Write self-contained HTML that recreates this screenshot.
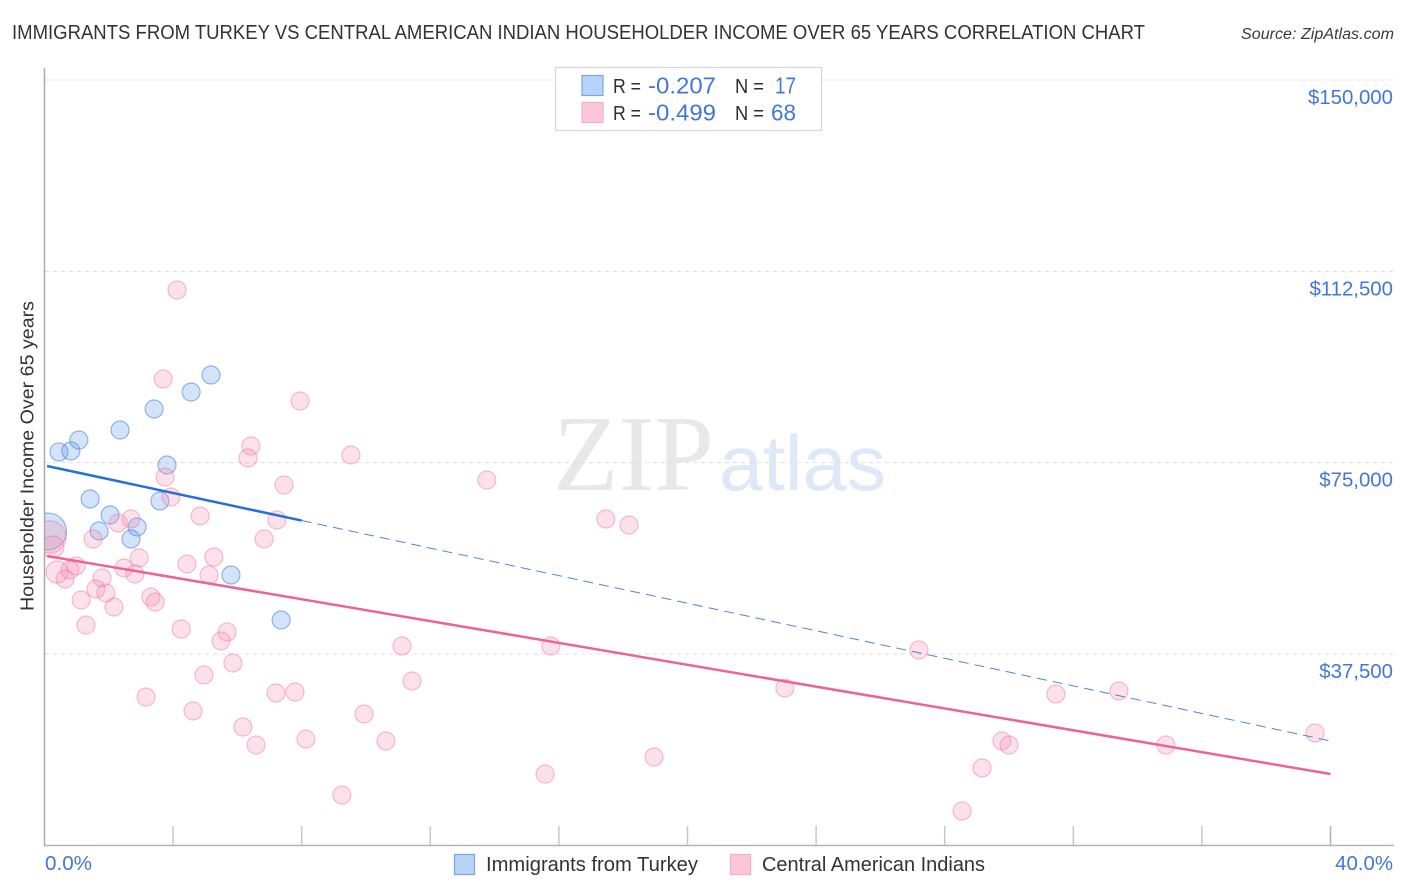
<!DOCTYPE html>
<html lang="en">
<head>
<meta charset="utf-8">
<title>Immigrants from Turkey vs Central American Indian Householder Income Correlation Chart</title>
<style>
html,body{margin:0;padding:0;background:#fff;width:1406px;height:892px;overflow:hidden}
svg{display:block;font-family:"Liberation Sans",sans-serif}
</style>
</head>
<body>
<svg id="chart" xmlns="http://www.w3.org/2000/svg" width="1406" height="892" viewBox="0 0 1406 892">
  <defs>
    <clipPath id="plot-clip"><rect x="45" y="60" width="1349" height="785"/></clipPath>
  </defs>
  <rect x="0" y="0" width="1406" height="892" fill="#fff"/>
  <text x="12" y="39" font-size="20" fill="#333333" textLength="1133" lengthAdjust="spacingAndGlyphs">IMMIGRANTS FROM TURKEY VS CENTRAL AMERICAN INDIAN HOUSEHOLDER INCOME OVER 65 YEARS CORRELATION CHART</text>
  <text x="1241" y="39" font-size="15.5" font-style="italic" fill="#3a3a3a" textLength="153" lengthAdjust="spacingAndGlyphs">Source: ZipAtlas.com</text>

  <g id="watermark">
    <text x="553" y="490" font-family="'Liberation Serif',serif" font-size="108" fill="#e8e8e8" textLength="161" lengthAdjust="spacingAndGlyphs">ZIP</text>
    <text x="719" y="490" font-size="78" fill="#dde9f8" textLength="167" lengthAdjust="spacingAndGlyphs">atlas</text>
  </g>

  <g id="grid"></g>
  <g id="axes">
    <line x1="44.5" y1="68" x2="44.5" y2="846" stroke="#aaaaaa" stroke-width="1.5"/>
    <line x1="44" y1="845.5" x2="1394" y2="845.5" stroke="#b4b4b4" stroke-width="1.5"/>
  </g>
  <g id="x-ticks"></g>
  <g id="y-labels" font-size="20.4" fill="#4277d8" text-anchor="end"></g>
  <g id="x-labels" font-size="20.4" fill="#4277d8"></g>
  <text transform="translate(33.5,611) rotate(-90)" font-size="18.5" fill="#333333" textLength="310" lengthAdjust="spacingAndGlyphs">Householder Income Over 65 years</text>

  <g id="points-blue" clip-path="url(#plot-clip)"></g>
  <g id="points-pink" clip-path="url(#plot-clip)"></g>
  <g id="trends"></g>

  <g id="stats-legend" font-size="20">
    <rect x="555.5" y="67.5" width="266" height="63" fill="#fff" stroke="#d6d6d6" stroke-width="1.2"/>
    <rect x="582" y="75.5" width="21" height="20" fill="#b7d3f9" stroke="#76a6e8" stroke-width="1.2"/>
    <rect x="582" y="102.5" width="21" height="20" fill="#fec7d9" stroke="#f5afc8" stroke-width="1.2"/>
    <text x="613" y="93" fill="#2e2e2e" textLength="28" lengthAdjust="spacingAndGlyphs">R =</text>
    <text x="648" y="93.5" font-size="23" fill="#4277d8" textLength="68" lengthAdjust="spacingAndGlyphs">-0.207</text>
    <text x="735" y="93" fill="#2e2e2e" textLength="29" lengthAdjust="spacingAndGlyphs">N =</text>
    <text x="775" y="93.5" font-size="23" fill="#4277d8" textLength="21" lengthAdjust="spacingAndGlyphs">17</text>
    <text x="613" y="120" fill="#2e2e2e" textLength="28" lengthAdjust="spacingAndGlyphs">R =</text>
    <text x="648" y="120.5" font-size="23" fill="#4277d8" textLength="68" lengthAdjust="spacingAndGlyphs">-0.499</text>
    <text x="735" y="120" fill="#2e2e2e" textLength="29" lengthAdjust="spacingAndGlyphs">N =</text>
    <text x="771" y="120.5" font-size="23" fill="#4277d8" textLength="25" lengthAdjust="spacingAndGlyphs">68</text>
  </g>

  <g id="series-legend" font-size="20" fill="#333">
    <g>
      <rect x="454.5" y="854.5" width="20" height="20" fill="#b7d3f9" stroke="#76a6e8" stroke-width="1.2"/>
      <text x="486" y="871" textLength="212" lengthAdjust="spacingAndGlyphs">Immigrants from Turkey</text>
    </g>
    <g>
      <rect x="730.5" y="854.5" width="20" height="20" fill="#fec7d9" stroke="#f5afc8" stroke-width="1.2"/>
      <text x="762" y="871" textLength="223" lengthAdjust="spacingAndGlyphs">Central American Indians</text>
    </g>
  </g>
</svg>

<script>
// Axis values
const xTickValues = [0, 4, 8, 12, 16, 20, 24, 28, 32, 36, 40];
const xTickText = ['0.0%', '40.0%'];
const yTickValues = [37500, 75000, 112500, 150000];
const yTickText = ['$37,500', '$75,000', '$112,500', '$150,000'];

// Immigrants from Turkey: share (%), income ($), relative sample size
const turkeyShare = [0.45, 0.82, 1.07, 2.35, 3.41, 4.56, 5.18, 3.81, 1.42, 3.59, 2.04, 1.70, 2.88, 2.69, 5.80, 7.36, 0.11];
const turkeyIncome = [77100, 77290, 79440, 81400, 85520, 88850, 92180, 74540, 67880, 67490, 64740, 61610, 62390, 60040, 52980, 44160, 61510];
const turkeySample = [1, 1, 1, 1, 1, 1, 1, 1, 1, 1, 1, 1, 1, 1, 1, 1, 4.2];

// Central American Indians: share (%), income ($), relative sample size
const centralShare = [4.12, 3.69, 7.95, 6.42, 6.33, 9.53, 13.76, 3.75, 3.93, 7.45, 4.84, 7.23, 17.46, 18.18, 2.29, 2.69, 6.83, 1.51, 2.94, 5.27, 4.43, 1.79, 0.98, 2.47, 2.81, 5.12, 0.64, 0.39, 0.79, 1.60, 1.91, 1.14, 3.31, 3.44, 2.16, 1.29, 4.25, 5.68, 5.49, 11.12, 15.75, 27.2, 5.86, 4.96, 11.43, 3.16, 7.20, 7.79, 23.03, 31.46, 33.42, 4.62, 9.94, 6.17, 39.52, 8.13, 10.62, 6.58, 29.78, 30.0, 34.88, 18.96, 15.57, 29.16, 9.25, 28.54, 0.17, 0.26];
const centralIncome = [108840, 91400, 87090, 78270, 75920, 76500, 71600, 72190, 68270, 70620, 64550, 63760, 63960, 62780, 63180, 63960, 60040, 60040, 56320, 56510, 55140, 52400, 54750, 54360, 53180, 52980, 52200, 53570, 53960, 50240, 49460, 48080, 48670, 47690, 46710, 43180, 42400, 41810, 40050, 39070, 39070, 38280, 35740, 33380, 32210, 29070, 29860, 30050, 30840, 29660, 30250, 26330, 25740, 23190, 22020, 20840, 20450, 19660, 20450, 19660, 19660, 17310, 13980, 15160, 9860, 6730, 60430, 58470];
const centralSample = [1, 1, 1, 1, 1, 1, 1, 1, 1, 1, 1, 1, 1, 1, 1, 1, 1, 1, 1, 1, 1, 1, 1, 1, 1, 1, 1, 1.5, 1, 1, 1, 1, 1, 1, 1, 1, 1, 1, 1, 1, 1, 1, 1, 1, 1, 1, 1, 1, 1, 1, 1, 1, 1, 1, 1, 1, 1, 1, 1, 1, 1, 1, 1, 1, 1, 1, 3.2, 1.5];

// Trend lines: [start, end] pairs of share (%) and income ($)
const turkeyTrendShare = [0.08, 40];
const turkeyTrendIncome = [74350, 20450];
const turkeyTrendSolidEnd = 8;
const centralTrendShare = [0.08, 40];
const centralTrendIncome = [56710, 13980];

// Axis functions
function xScale(v) { return 44.5 + v * 32.15; }
function yScale(v) { return 654 - (v - 37500) * 191.33 / 37500; }
function radius(n) { return 9 * Math.sqrt(n); }

const NS = 'http://www.w3.org/2000/svg';
function make(tag, parent, attrs) {
  const el = document.createElementNS(NS, tag);
  for (const k in attrs) el.setAttribute(k, attrs[k]);
  parent.appendChild(el);
  return el;
}

const gridG = document.getElementById('grid');
yTickValues.forEach(function (v) {
  const el = make('line', gridG, { x1: 45, x2: 1394, y1: yScale(v), y2: yScale(v), stroke: '#dedede', 'stroke-width': 1, 'stroke-dasharray': '4 4' });
  
  
});

const xTickG = document.getElementById('x-ticks');
xTickValues.slice(1).forEach(function (v, i, arr) {
  const el = make('line', xTickG, { x1: xScale(v), x2: xScale(v), y1: 826, y2: 845, stroke: i === arr.length - 1 ? '#b0b0b0' : '#c8c8c8', 'stroke-width': 1.5 });
  
  
});

const yLabelG = document.getElementById('y-labels');
yTickValues.forEach(function (v, i) {
  const el = make('text', yLabelG, { x: 1393, y: yScale(v) + 24 });
  el.textContent = yTickText[i];
  
  
});

const xLabelG = document.getElementById('x-labels');
const xFirst = make('text', xLabelG, { x: xScale(xTickValues[0]) + 0.5, y: 870, textLength: 47, lengthAdjust: 'spacingAndGlyphs' });
xFirst.textContent = xTickText[0];


const xLast = make('text', xLabelG, { x: 1393, y: 870, 'text-anchor': 'end' });
xLast.textContent = xTickText[1];



const blueG = document.getElementById('points-blue');
turkeyShare.forEach(function (s, i) {
  const el = make('circle', blueG, { cx: xScale(s), cy: yScale(turkeyIncome[i]), r: radius(turkeySample[i]), fill: 'rgba(95,155,238,0.28)', stroke: 'rgba(70,125,220,0.55)', 'stroke-width': 1.2 });
  
  
});

const pinkG = document.getElementById('points-pink');
centralShare.forEach(function (s, i) {
  const el = make('circle', pinkG, { cx: xScale(s), cy: yScale(centralIncome[i]), r: radius(centralSample[i]), fill: 'rgba(246,135,172,0.25)', stroke: 'rgba(238,120,160,0.48)', 'stroke-width': 1.2 });
  
  
});

const trendG = document.getElementById('trends');
function turkeyTrendAt(x) {
  const t = (x - turkeyTrendShare[0]) / (turkeyTrendShare[1] - turkeyTrendShare[0]);
  return turkeyTrendIncome[0] + t * (turkeyTrendIncome[1] - turkeyTrendIncome[0]);
}
const blueDash = make('line', trendG, { x1: xScale(turkeyTrendSolidEnd), y1: yScale(turkeyTrendAt(turkeyTrendSolidEnd)), x2: xScale(turkeyTrendShare[1]), y2: yScale(turkeyTrendIncome[1]), stroke: '#4f85d8', 'stroke-width': 1, 'stroke-dasharray': '10 6' });


const blueSolid = make('line', trendG, { x1: xScale(turkeyTrendShare[0]), y1: yScale(turkeyTrendIncome[0]), x2: xScale(turkeyTrendSolidEnd), y2: yScale(turkeyTrendAt(turkeyTrendSolidEnd)), stroke: '#2470d8', 'stroke-width': 2.5 });


const pinkLine = make('line', trendG, { x1: xScale(centralTrendShare[0]), y1: yScale(centralTrendIncome[0]), x2: xScale(centralTrendShare[1]), y2: yScale(centralTrendIncome[1]), stroke: '#ec6496', 'stroke-width': 2.5 });


</script>
</body>
</html>
